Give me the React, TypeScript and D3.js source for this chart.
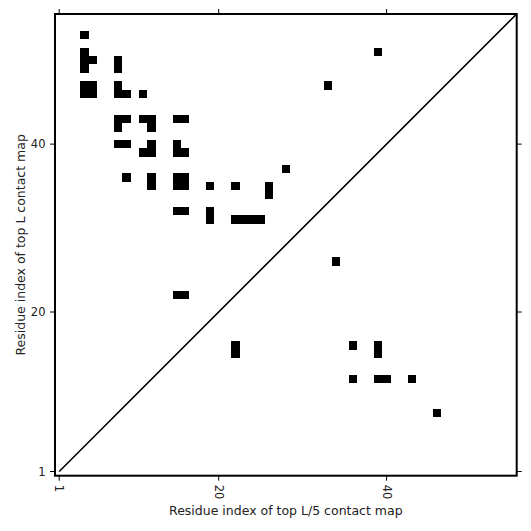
import React from "react";
import * as d3 from "d3";

// Residue count (L) and axis ticks
const L = 55;
const tickValues = [1, 20, 40];

// Top L contacts (upper triangle): [x residue, y residue]
const topLContacts: [number, number][] = [
  [4, 53],
  [4, 51], [4, 50], [4, 49], [5, 50],
  [8, 50], [8, 49],
  [4, 47], [5, 47], [4, 46], [5, 46],
  [8, 47], [8, 46], [9, 46],
  [11, 46],
  [39, 51],
  [33, 47],
  [8, 43], [9, 43], [8, 42],
  [11, 43], [12, 43], [12, 42],
  [15, 43], [16, 43],
  [8, 40], [9, 40],
  [12, 40], [12, 39], [11, 39],
  [15, 40], [15, 39], [16, 39],
  [9, 36],
  [12, 36], [12, 35],
  [15, 36], [16, 36], [15, 35], [16, 35],
  [19, 35],
  [22, 35],
  [26, 35], [26, 34],
  [28, 37],
  [15, 32], [16, 32],
  [19, 32], [19, 31],
  [22, 31], [23, 31], [24, 31], [25, 31],
  [34, 26],
  [15, 22], [16, 22],
];

// Top L/5 contacts (lower triangle): [x residue, y residue]
const topL5Contacts: [number, number][] = [
  [22, 16], [22, 15],
  [36, 16],
  [39, 16], [39, 15],
  [36, 12],
  [39, 12], [40, 12],
  [43, 12],
  [46, 8],
];

const xLabel = "Residue index of top L/5 contact map";
const yLabel = "Residue index of top L contact map";

export default function App() {
  const W = 531;
  const H = 531;
  const left = 55, right = 516.7, top = 14, bottom = 475.7;
  const x = d3.scaleLinear().domain([0.5, L + 0.5]).range([left, right]);
  const y = d3.scaleLinear().domain([0.5, L + 0.5]).range([bottom, top]);
  const font = "DejaVu Sans, sans-serif";
  const tickLen = 5;
  const allCells = [...topLContacts, ...topL5Contacts];

  return (
    <svg width={W} height={H} style={{ position: "absolute", left: 0, top: 0 }}>
      <rect x={0} y={0} width={W} height={H} fill="#fff" />
      <defs>
        <clipPath id="plotclip">
          <rect x={left} y={top} width={right - left} height={bottom - top} />
        </clipPath>
      </defs>
      <g shapeRendering="crispEdges">
        {allCells.map(([i, j], k) => (
          <rect
            key={k}
            x={x(i - 0.5)}
            y={y(j + 0.5)}
            width={x(i + 0.5) - x(i - 0.5)}
            height={y(j - 0.5) - y(j + 0.5)}
            fill="#000"
          />
        ))}
      </g>
      <line
        x1={x(1)}
        y1={y(1)}
        x2={x(L + 0.5)}
        y2={y(L + 0.5)}
        stroke="#000"
        strokeWidth={1.6}
        clipPath="url(#plotclip)"
      />
      {/* frame */}
      <rect
        x={left}
        y={top}
        width={right - left}
        height={bottom - top}
        fill="none"
        stroke="#000"
        strokeWidth={2}
      />
      {/* ticks */}
      {tickValues.map((t) => (
        <g key={"t" + t} stroke="#000" strokeWidth={1}>
          <line x1={x(t)} x2={x(t)} y1={bottom} y2={bottom + tickLen} />
          <line x1={x(t)} x2={x(t)} y1={top} y2={top - tickLen} />
          <line x1={left} x2={left - tickLen} y1={y(t)} y2={y(t)} />
          <line x1={right} x2={right + tickLen} y1={y(t)} y2={y(t)} />
        </g>
      ))}
      {tickValues.map((t) => (
        <text
          key={"yl" + t}
          x={45.5}
          y={y(t)}
          textAnchor="end"
          dominantBaseline="central"
          fontFamily={font}
          fontSize={11.5}
          fill="#222"
        >
          {t}
        </text>
      ))}
      {tickValues.map((t) => (
        <text
          key={"xl" + t}
          x={x(t)}
          y={bottom + tickLen + 4}
          transform={`rotate(90, ${x(t)}, ${bottom + tickLen + 4})`}
          textAnchor="start"
          dominantBaseline="central"
          fontFamily={font}
          fontSize={11.5}
          fill="#222"
        >
          {t}
        </text>
      ))}
      <text
        x={(left + right) / 2}
        y={515}
        textAnchor="middle"
        fontFamily={font}
        fontSize={12.5}
        fill="#222"
      >
        {xLabel}
      </text>
      <text
        x={25}
        y={(top + bottom) / 2}
        transform={`rotate(-90, 25, ${(top + bottom) / 2})`}
        textAnchor="middle"
        fontFamily={font}
        fontSize={12.5}
        fill="#222"
      >
        {yLabel}
      </text>
    </svg>
  );
}
